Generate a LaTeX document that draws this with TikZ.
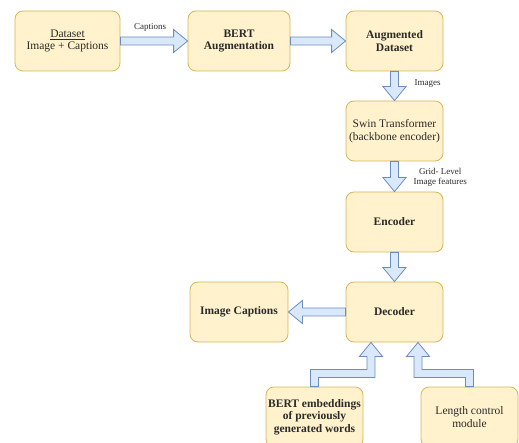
\documentclass[tikz,border=0pt]{standalone}
\usepackage{fontspec}
\setmainfont{Liberation Serif}
\usetikzlibrary{calc}
\definecolor{boxfill}{HTML}{FFF2CC}
\definecolor{boxline}{HTML}{D6B656}
\definecolor{arrfill}{HTML}{DAE8FC}
\definecolor{arrline}{HTML}{6C8EBF}
\definecolor{ink}{HTML}{2A2A2A}

% block arrows: shaft half-width 4, head half-width 11.5, head length 14
\newcommand\rblock[2]{\draw[blk] ($(#1)+(0,-4)$) -- ($(#2)+(-14,-4)$) -- ($(#2)+(-14,-11.5)$) -- (#2) -- ($(#2)+(-14,11.5)$) -- ($(#2)+(-14,4)$) -- ($(#1)+(0,4)$) -- cycle;}
\newcommand\lblock[2]{\draw[blk] ($(#1)+(0,-4)$) -- ($(#2)+(14,-4)$) -- ($(#2)+(14,-11.5)$) -- (#2) -- ($(#2)+(14,11.5)$) -- ($(#2)+(14,4)$) -- ($(#1)+(0,4)$) -- cycle;}
\newcommand\dblock[2]{\draw[blk] ($(#1)+(-4,0)$) -- ($(#2)+(-4,-14)$) -- ($(#2)+(-11.5,-14)$) -- (#2) -- ($(#2)+(11.5,-14)$) -- ($(#2)+(4,-14)$) -- ($(#1)+(4,0)$) -- cycle;}
% elbow going up: source, target, bar level, +4 when target lies right of source, -4 otherwise
\newcommand\upelbow[4]{\draw[blk] let \p1=(#1), \p2=(#2), \p3=(#3) in
  ({\x1-4pt},\y1) -- ({\x1-4pt},{\y3+(#4pt)}) -- ({\x2-4pt},{\y3+(#4pt)}) -- ({\x2-4pt},{\y2-14pt})
  -- ({\x2-11.5pt},{\y2-14pt}) -- (\x2,\y2) -- ({\x2+11.5pt},{\y2-14pt}) -- ({\x2+4pt},{\y2-14pt})
  -- ({\x2+4pt},{\y3-(#4pt)}) -- ({\x1+4pt},{\y3-(#4pt)}) -- ({\x1+4pt},\y1) -- cycle;}

\begin{document}
\begin{tikzpicture}[x=1pt,y=-1pt,
  box/.style={draw=boxline, fill=boxfill, rounded corners=8pt, line width=0.8pt,
    minimum width=97pt, minimum height=60pt, align=center, text=ink, inner sep=2pt,
    font=\fontsize{11.5}{12.5}\selectfont},
  boldbox/.style={box, font=\fontsize{11.5}{12.5}\selectfont\bfseries},
  blk/.style={draw=arrline, fill=arrfill, line width=0.8pt, line join=miter},
  lbl/.style={font=\fontsize{9}{10.5}\selectfont, text=ink, inner sep=0pt, align=center}]
\useasboundingbox (0,0) rectangle (519,443);
\clip (0,0) rectangle (519,443);

% boxes
\node[box, minimum width=105pt] (dset) at (67.5,41) {\underline{Dataset}\\Image + Captions};
\node[boldbox, minimum width=102pt] (baug) at (239,41) {BERT\\Augmentation};
\node[boldbox] (adset) at (394.5,41) {Augmented\\Dataset};
\node[box] (swin) at (394.5,131) {Swin Transformer\\(backbone encoder)};
\node[boldbox] (enc) at (394.5,222) {Encoder};
\node[boldbox] (dec) at (394.5,312) {Decoder};
\node[boldbox, minimum width=98pt] (capt) at (239,312) {Image Captions};
\node[boldbox] (emb) at (314.5,417) {BERT embeddings\\of previously\\generated words};
\node[box] (lenc) at (469.5,417) {Length control\\module};

% connectors
\rblock{dset.east}{baug.west}
\rblock{baug.east}{adset.west}
\dblock{adset.south}{swin.north}
\dblock{swin.south}{enc.north}
\dblock{enc.south}{dec.north}
\lblock{dec.west}{capt.east}
\coordinate (embin) at ($(dec.south)+(-23.5,0)$);
\coordinate (lenin) at ($(dec.south)+(23.5,0)$);
\coordinate (bar) at ($(dec.south)+(0,31)$);
\upelbow{emb.north}{embin}{bar}{4}
\upelbow{lenc.north}{lenin}{bar}{-4}

% connector labels
\node[lbl] (lcap) at ($(dset.east)!0.5!(baug.west)+(-4,-14)$) {Captions};
\node[lbl, anchor=west] (limg) at ($(adset.south)!0.5!(swin.north)+(20,-2)$) {Images};
\node[lbl, anchor=west] (lgrid) at ($(swin.south)!0.5!(enc.north)+(19,1)$) {Grid- Level\\Image features};
\end{tikzpicture}
\end{document}
